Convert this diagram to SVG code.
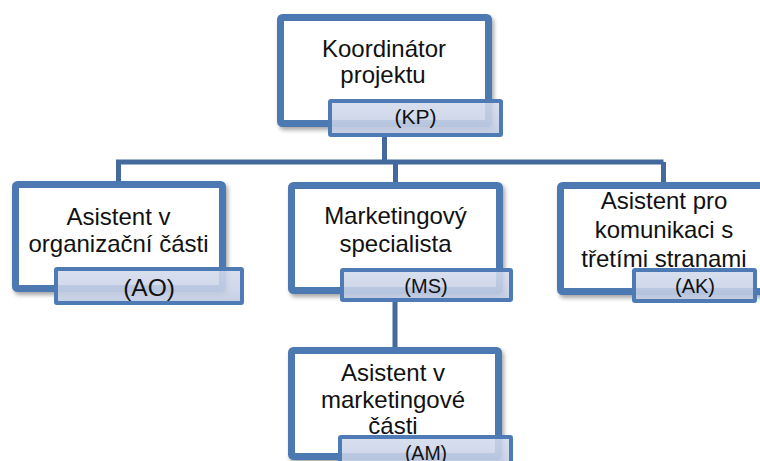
<svg xmlns="http://www.w3.org/2000/svg" width="760" height="461" viewBox="0 0 760 461">
<defs>
<filter id="sh" x="-10%" y="-10%" width="125%" height="130%">
<feDropShadow dx="2" dy="3" stdDeviation="2" flood-color="#000" flood-opacity="0.35"/>
</filter>
<linearGradient id="lg" x1="0" y1="0" x2="0" y2="1">
<stop offset="0" stop-color="#d3dbec"/>
<stop offset="0.6" stop-color="#c9d2e7"/>
<stop offset="1" stop-color="#bcc8e0"/>
</linearGradient>
</defs>
<style>
.box{fill:#fff;stroke:#4e79b3;stroke-width:7;filter:url(#sh)}
.lab{fill:url(#lg);fill-opacity:0.88;stroke:#4e7ab6;stroke-width:4}
.conn{fill:none;stroke:#43699e;stroke-width:5}
text{font-family:"Liberation Sans",Arial,sans-serif;fill:#111;text-anchor:middle}
.t{font-size:24px}
</style>
<g id="connectors">
<path class="conn" d="M384.5 136 V162 M118.5 162 H663.5 M118.5 159.5 V184 M395.5 162 V185 M663.5 162 V185 M395 300 V350"/>
</g>
<g id="kp">
<rect class="box" x="280.5" y="17.5" width="208" height="106" rx="2"/>
<text class="t" x="384" y="57">Koordinátor</text>
<text class="t" x="383" y="83">projektu</text>
<rect class="lab" x="330" y="101" width="171" height="34" rx="1"/>
<text x="415.5" y="124" font-size="21">(KP)</text>
</g>
<g id="ao">
<rect class="box" x="15.5" y="184.5" width="207" height="104" rx="2"/>
<text class="t" x="118.5" y="225">Asistent v</text>
<text class="t" x="118.5" y="252">organizační části</text>
<rect class="lab" x="56" y="269" width="186" height="34" rx="1"/>
<text x="149" y="296" font-size="24.5">(AO)</text>
</g>
<g id="ms">
<rect class="box" x="291.5" y="185.5" width="208" height="105" rx="2"/>
<text class="t" x="395.5" y="224">Marketingový</text>
<text class="t" x="395.5" y="252">specialista</text>
<rect class="lab" x="342" y="270" width="169" height="30" rx="1"/>
<text x="426" y="293" font-size="20">(MS)</text>
</g>
<g id="ak">
<rect class="box" x="560.5" y="185.5" width="208" height="106" rx="2"/>
<text class="t" x="664" y="209">Asistent pro</text>
<text class="t" x="664" y="238">komunikaci s</text>
<text class="t" x="664" y="267">třetími stranami</text>
<rect class="lab" x="634" y="270" width="121" height="31" rx="1"/>
<text x="695" y="293" font-size="20">(AK)</text>
</g>
<g id="am">
<rect class="box" x="291.5" y="350.5" width="207" height="106" rx="2"/>
<text class="t" x="393" y="381">Asistent v</text>
<text class="t" x="393" y="408">marketingové</text>
<text class="t" x="393" y="434">části</text>
<rect class="lab" x="340" y="437" width="171" height="32" rx="1"/>
<text x="426" y="460" font-size="19.5">(AM)</text>
</g>
</svg>
